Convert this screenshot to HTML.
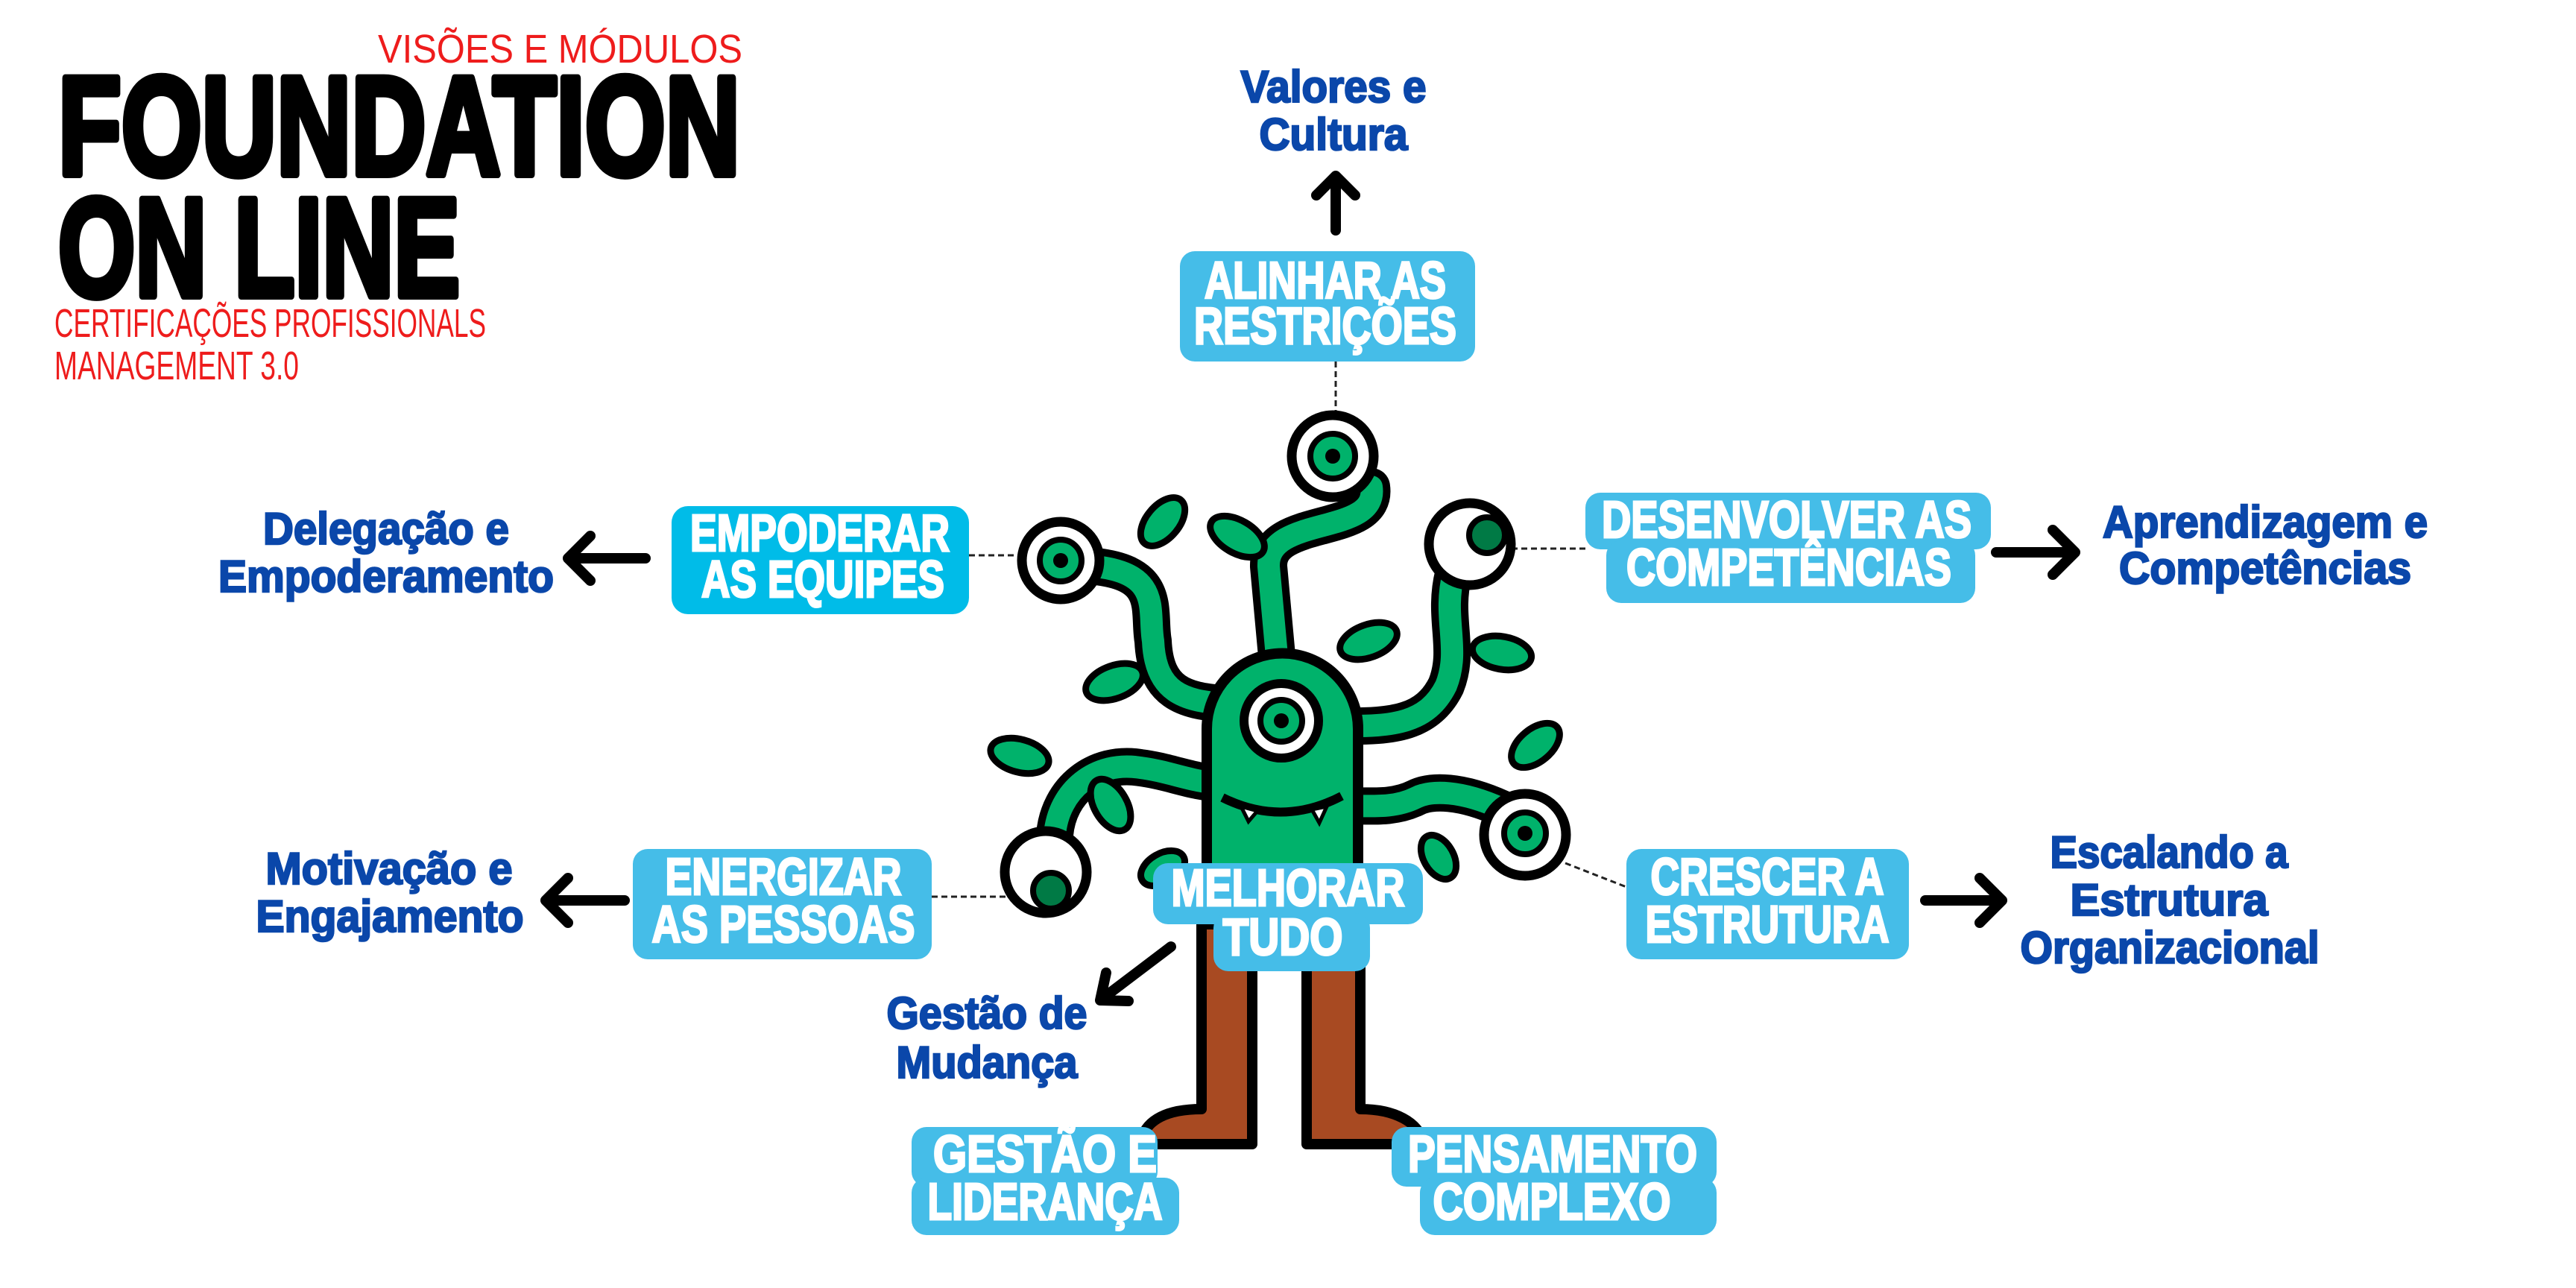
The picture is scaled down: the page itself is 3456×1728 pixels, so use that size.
<!DOCTYPE html>
<html><head><meta charset="utf-8"><style>
html,body{margin:0;padding:0;background:#fff;}
svg{display:block;}
.t{font-family:"Liberation Sans",sans-serif;}
.w{fill:#fff;stroke:#fff;stroke-width:3;font-weight:bold;font-size:70px;text-anchor:middle;}
.b{fill:#0a47aa;stroke:#0a47aa;stroke-width:2.5;font-weight:bold;font-size:60px;text-anchor:middle;}
.r{fill:#ee1c1c;font-size:54px;}
</style></head><body>
<svg width="3456" height="1728" viewBox="0 0 3456 1728" xmlns="http://www.w3.org/2000/svg" class="t">
<rect width="3456" height="1728" fill="#fff"/>
<!-- title -->
<text class="r" x="507" y="84" textLength="489" lengthAdjust="spacingAndGlyphs" font-size="64">VISÕES E MÓDULOS</text>
<text x="78" y="234" font-weight="bold" font-size="188" textLength="915" lengthAdjust="spacingAndGlyphs" fill="#000" stroke="#000" stroke-width="10" stroke-linejoin="round">FOUNDATION</text>
<text x="78" y="397" font-weight="bold" font-size="188" textLength="539" lengthAdjust="spacingAndGlyphs" fill="#000" stroke="#000" stroke-width="10" stroke-linejoin="round">ON LINE</text>
<text class="r" x="73" y="452" textLength="579" lengthAdjust="spacingAndGlyphs">CERTIFICAÇÕES PROFISSIONALS</text>
<text class="r" x="73" y="509" textLength="328" lengthAdjust="spacingAndGlyphs">MANAGEMENT 3.0</text>

<!-- dotted connectors -->
<g stroke="#222" stroke-width="3" stroke-dasharray="8,5" fill="none">
<line x1="1792" y1="485" x2="1792" y2="575"/>
<line x1="1300" y1="745" x2="1375" y2="745"/>
<line x1="2028" y1="736" x2="2127" y2="736"/>
<line x1="1250" y1="1203" x2="1355" y2="1203"/>
<line x1="2100" y1="1158" x2="2182" y2="1190"/>
</g>

<!-- monster: stalks -->
<g fill="none" stroke-linecap="round" stroke-linejoin="round">
<g stroke="#000" stroke-width="50">
<path d="M1840,653 C1850,720 1700,690 1702,760 L1713,880"/>
<path d="M1470,760 C1560,770 1540,820 1547,860 C1550,930 1590,940 1640,944"/>
<path d="M1950,770 C1935,830 1960,870 1940,920 C1915,970 1870,975 1800,974"/>
<path d="M1415,1120 C1420,1060 1470,1020 1530,1030 C1570,1035 1600,1050 1640,1051"/>
<path d="M2015,1085 C1960,1060 1920,1060 1900,1070 C1870,1085 1840,1081 1800,1081"/>
</g>
<g stroke="#00b26b" stroke-width="30">
<path d="M1840,653 C1850,720 1700,690 1702,760 L1713,880"/>
<path d="M1470,760 C1560,770 1540,820 1547,860 C1550,930 1590,940 1640,944"/>
<path d="M1950,770 C1935,830 1960,870 1940,920 C1915,970 1870,975 1800,974"/>
<path d="M1415,1120 C1420,1060 1470,1020 1530,1030 C1570,1035 1600,1050 1640,1051"/>
<path d="M2015,1085 C1960,1060 1920,1060 1900,1070 C1870,1085 1840,1081 1800,1081"/>
</g>
</g>
<!-- leaves -->
<g fill="#00b26b" stroke="#000" stroke-width="9">
<ellipse cx="1560" cy="700" rx="38" ry="22" transform="rotate(-50 1560 700)"/>
<ellipse cx="1660" cy="720" rx="40" ry="22" transform="rotate(30 1660 720)"/>
<ellipse cx="1495" cy="915" rx="40" ry="22" transform="rotate(-20 1495 915)"/>
<ellipse cx="1836" cy="860" rx="40" ry="22" transform="rotate(-20 1836 860)"/>
<ellipse cx="2015" cy="876" rx="40" ry="22" transform="rotate(10 2015 876)"/>
<ellipse cx="1368" cy="1014" rx="40" ry="22" transform="rotate(15 1368 1014)"/>
<ellipse cx="1490" cy="1080" rx="38" ry="22" transform="rotate(60 1490 1080)"/>
<ellipse cx="2060" cy="1000" rx="38" ry="22" transform="rotate(-40 2060 1000)"/>
<ellipse cx="1930" cy="1150" rx="32" ry="20" transform="rotate(60 1930 1150)"/>
<ellipse cx="1560" cy="1165" rx="32" ry="20" transform="rotate(-30 1560 1165)"/>
</g>
<!-- legs -->
<g stroke="#000" stroke-width="14" fill="#a84a22" stroke-linejoin="round">
<path d="M1612,1230 L1680,1230 L1680,1535 L1530,1535 C1535,1500 1570,1488 1612,1488 Z"/>
<path d="M1753,1230 L1825,1230 L1825,1488 C1870,1488 1905,1505 1910,1535 L1753,1535 Z"/>
</g>
<!-- body -->
<path d="M1619,1240 L1619,978 A101,101 0 0 1 1822,978 L1822,1240 Z" fill="#00b26b" stroke="#000" stroke-width="14"/>
<path d="M1640,1070 Q1720,1110 1800,1068" fill="none" stroke="#000" stroke-width="12"/>
<path d="M1665,1082 l10,20 l12,-14 Z M1760,1086 l10,18 l10,-22 Z" fill="#fff" stroke="#000" stroke-width="5"/>
<!-- eyes -->
<g stroke="#000">
<g><circle cx="1719" cy="967" r="50" fill="#fff" stroke-width="12"/><circle cx="1719" cy="967" r="28" fill="#00b26b" stroke-width="8"/><circle cx="1719" cy="967" r="10" fill="#000" stroke="none"/></g>
<g><circle cx="1788" cy="612" r="55" fill="#fff" stroke-width="13"/><circle cx="1788" cy="612" r="30" fill="#00b26b" stroke-width="8"/><circle cx="1788" cy="612" r="10" fill="#000" stroke="none"/></g>
<g><circle cx="1423" cy="752" r="52" fill="#fff" stroke-width="13"/><circle cx="1423" cy="752" r="28" fill="#00b26b" stroke-width="8"/><circle cx="1423" cy="752" r="10" fill="#000" stroke="none"/></g>
<g><circle cx="1972" cy="730" r="55" fill="#fff" stroke-width="13"/><circle cx="1995" cy="718" r="24" fill="#007a45" stroke-width="8"/></g>
<g><circle cx="1403" cy="1170" r="55" fill="#fff" stroke-width="13"/><circle cx="1410" cy="1195" r="24" fill="#007a45" stroke-width="8"/></g>
<g><circle cx="2046" cy="1120" r="55" fill="#fff" stroke-width="13"/><circle cx="2046" cy="1118" r="28" fill="#00b26b" stroke-width="8"/><circle cx="2046" cy="1118" r="10" fill="#000" stroke="none"/></g>
</g>

<!-- boxes -->
<g fill="#45bde8">
<rect x="1583" y="337" width="396" height="148" rx="20"/>
<rect x="901" y="679" width="399" height="145" rx="22" fill="#00bce8"/>
<rect x="2127" y="661" width="544" height="76" rx="20"/>
<rect x="2155" y="725" width="495" height="84" rx="20"/>
<rect x="849" y="1139" width="401" height="148" rx="20"/>
<rect x="2182" y="1139" width="379" height="148" rx="20"/>
<rect x="1547" y="1158" width="362" height="82" rx="20"/>
<rect x="1628" y="1225" width="210" height="78" rx="20"/>
<rect x="1223" y="1512" width="330" height="80" rx="20"/>
<rect x="1223" y="1580" width="359" height="77" rx="20"/>
<rect x="1867" y="1512" width="436" height="80" rx="20"/>
<rect x="1905" y="1580" width="398" height="77" rx="20"/>
</g>
<g class="w">
<text x="1778" y="400" textLength="324" lengthAdjust="spacingAndGlyphs">ALINHAR AS</text>
<text x="1778" y="461" textLength="352" lengthAdjust="spacingAndGlyphs">RESTRIÇÕES</text>
<text x="1100" y="739" textLength="348" lengthAdjust="spacingAndGlyphs">EMPODERAR</text>
<text x="1104" y="801" textLength="326" lengthAdjust="spacingAndGlyphs">AS EQUIPES</text>
<text x="2397" y="721" textLength="496" lengthAdjust="spacingAndGlyphs">DESENVOLVER AS</text>
<text x="2400" y="785" textLength="436" lengthAdjust="spacingAndGlyphs">COMPETÊNCIAS</text>
<text x="1051" y="1200" textLength="317" lengthAdjust="spacingAndGlyphs">ENERGIZAR</text>
<text x="1051" y="1264" textLength="353" lengthAdjust="spacingAndGlyphs">AS PESSOAS</text>
<text x="2371" y="1200" textLength="313" lengthAdjust="spacingAndGlyphs">CRESCER A</text>
<text x="2371" y="1264" textLength="327" lengthAdjust="spacingAndGlyphs">ESTRUTURA</text>
<text x="1728" y="1215" textLength="313" lengthAdjust="spacingAndGlyphs">MELHORAR</text>
<text x="1721" y="1281" textLength="161" lengthAdjust="spacingAndGlyphs">TUDO</text>
<text x="1402" y="1572" textLength="300" lengthAdjust="spacingAndGlyphs">GESTÃO E</text>
<text x="1402" y="1636" textLength="315" lengthAdjust="spacingAndGlyphs">LIDERANÇA</text>
<text x="2083" y="1572" textLength="388" lengthAdjust="spacingAndGlyphs">PENSAMENTO</text>
<text x="2082" y="1636" textLength="319" lengthAdjust="spacingAndGlyphs">COMPLEXO</text>
</g>

<!-- blue labels -->
<g class="b">
<text x="1789" y="137" textLength="249" lengthAdjust="spacingAndGlyphs">Valores e</text>
<text x="1789" y="201" textLength="199" lengthAdjust="spacingAndGlyphs">Cultura</text>
<text x="518" y="730" textLength="330" lengthAdjust="spacingAndGlyphs">Delegação e</text>
<text x="518" y="794" textLength="450" lengthAdjust="spacingAndGlyphs">Empoderamento</text>
<text x="3039" y="721" textLength="436" lengthAdjust="spacingAndGlyphs">Aprendizagem e</text>
<text x="3039" y="783" textLength="392" lengthAdjust="spacingAndGlyphs">Competências</text>
<text x="522" y="1186" textLength="331" lengthAdjust="spacingAndGlyphs">Motivação e</text>
<text x="523" y="1250" textLength="359" lengthAdjust="spacingAndGlyphs">Engajamento</text>
<text x="2910" y="1164" textLength="319" lengthAdjust="spacingAndGlyphs">Escalando a</text>
<text x="2910" y="1228" textLength="265" lengthAdjust="spacingAndGlyphs">Estrutura</text>
<text x="2911" y="1292" textLength="401" lengthAdjust="spacingAndGlyphs">Organizacional</text>
<text x="1324" y="1380" textLength="269" lengthAdjust="spacingAndGlyphs">Gestão de</text>
<text x="1324" y="1446" textLength="243" lengthAdjust="spacingAndGlyphs">Mudança</text>
</g>

<!-- arrows -->
<g stroke="#000" stroke-width="14" fill="none" stroke-linecap="round" stroke-linejoin="round">
<path d="M1792,309 L1792,236 M1766,262 L1792,236 L1818,262"/>
<path d="M866,749 L762,749 M792,719 L762,749 L792,779"/>
<path d="M2678,741 L2784,741 M2754,711 L2784,741 L2754,771"/>
<path d="M838,1208 L732,1208 M762,1178 L732,1208 L762,1238"/>
<path d="M2583,1208 L2686,1208 M2656,1178 L2686,1208 L2656,1238"/>
<path d="M1571,1270 L1476,1342 M1484,1305 L1476,1342 L1514,1343"/>
</g>
</svg>
</body></html>
